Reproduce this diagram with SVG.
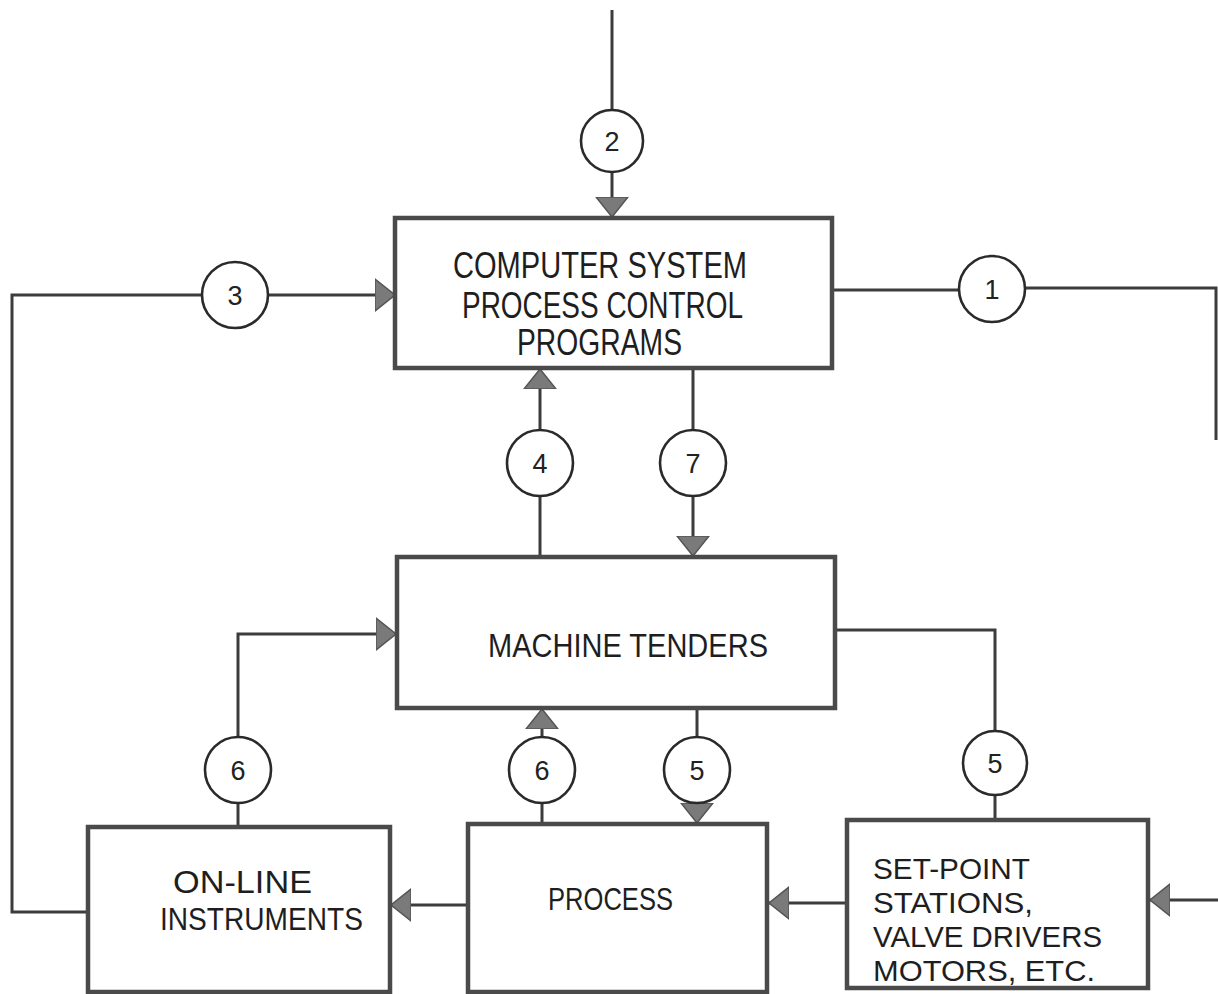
<svg xmlns="http://www.w3.org/2000/svg" width="1218" height="994" viewBox="0 0 1218 994">
<style>
.box{fill:#fff;stroke:#4a4a4a;stroke-width:4.5}
.ln{fill:none;stroke:#3c3c3c;stroke-width:3}
.circ{fill:#fff;stroke:#2a2a2a;stroke-width:2.6}
.lbl{font-family:"Liberation Sans",Arial,sans-serif;fill:#1e1e1e}
.big{font-size:36px}
.mid{font-size:34px}
.sm{font-size:31px}
.sp{font-size:29px}
.num{font-family:"Liberation Sans",Arial,sans-serif;fill:#222;font-size:27px;text-anchor:middle}
</style>
<defs>
<marker id="ah" viewBox="0 0 20 34" refX="20" refY="17" markerWidth="20" markerHeight="34" markerUnits="userSpaceOnUse" orient="auto">
<path d="M0,1 L20,17 L0,33 Z" fill="#7a7a7a" stroke="#555" stroke-width="1.5"/>
</marker>
</defs>
<rect width="1218" height="994" fill="#fff"/>
<g id="connectors">
<path class="ln" d="M612,10 V110"/>
<path class="ln" d="M612,172 V217" marker-end="url(#ah)"/>
<path class="ln" d="M88,912 H12 V295 H202"/>
<path class="ln" d="M268,295 H395" marker-end="url(#ah)"/>
<path class="ln" d="M832,290 H959"/>
<path class="ln" d="M1025,288 H1216 V440"/>
<path class="ln" d="M1218,900 H1150" marker-end="url(#ah)"/>
<path class="ln" d="M540,557 V496"/>
<path class="ln" d="M540,430 V369" marker-end="url(#ah)"/>
<path class="ln" d="M693,368 V430"/>
<path class="ln" d="M693,496 V556" marker-end="url(#ah)"/>
<path class="ln" d="M238,827 V803"/>
<path class="ln" d="M238,737 V634 H396" marker-end="url(#ah)"/>
<path class="ln" d="M542,824 V803"/>
<path class="ln" d="M542,737 V709" marker-end="url(#ah)"/>
<path class="ln" d="M697,708 V737"/>
<path class="ln" d="M697,803 V823" marker-end="url(#ah)"/>
<path class="ln" d="M835,630 H995 V731"/>
<path class="ln" d="M995,795 V820"/>
<path class="ln" d="M468,905 H391" marker-end="url(#ah)"/>
<path class="ln" d="M847,903 H769" marker-end="url(#ah)"/>
</g>
<g id="n-computer">
<rect class="box" x="395" y="218" width="437" height="150"/>
<text class="lbl big" x="453" y="278" textLength="294" lengthAdjust="spacingAndGlyphs">COMPUTER SYSTEM</text>
<text class="lbl big" x="462" y="318" textLength="281" lengthAdjust="spacingAndGlyphs">PROCESS CONTROL</text>
<text class="lbl big" x="517" y="355" textLength="165" lengthAdjust="spacingAndGlyphs">PROGRAMS</text>
</g>
<g id="n-tenders">
<rect class="box" x="397" y="557" width="438" height="151"/>
<text class="lbl mid" x="488" y="657" textLength="280" lengthAdjust="spacingAndGlyphs">MACHINE TENDERS</text>
</g>
<g id="n-online">
<rect class="box" x="88" y="827" width="302" height="165"/>
<text class="lbl sm" x="173" y="893" textLength="139" lengthAdjust="spacingAndGlyphs">ON-LINE</text>
<text class="lbl sm" x="160" y="930" textLength="203" lengthAdjust="spacingAndGlyphs">INSTRUMENTS</text>
</g>
<g id="n-process">
<rect class="box" x="468" y="824" width="299" height="168"/>
<text class="lbl sm" x="548" y="910" textLength="125" lengthAdjust="spacingAndGlyphs">PROCESS</text>
</g>
<g id="n-setpoint">
<rect class="box" x="847" y="820" width="301" height="168"/>
<text class="lbl sp" x="873" y="879" textLength="157" lengthAdjust="spacingAndGlyphs">SET-POINT</text>
<text class="lbl sp" x="873" y="913" textLength="160" lengthAdjust="spacingAndGlyphs">STATIONS,</text>
<text class="lbl sp" x="873" y="947" textLength="229" lengthAdjust="spacingAndGlyphs">VALVE DRIVERS</text>
<text class="lbl sp" x="873" y="981" textLength="222" lengthAdjust="spacingAndGlyphs">MOTORS, ETC.</text>
</g>
<g id="c2"><circle class="circ" cx="612" cy="141" r="31"/><text class="num" x="612" y="151">2</text></g>
<g id="c3"><circle class="circ" cx="235" cy="295" r="33"/><text class="num" x="235" y="305">3</text></g>
<g id="c1"><circle class="circ" cx="992" cy="289" r="33"/><text class="num" x="992" y="299">1</text></g>
<g id="c4"><circle class="circ" cx="540" cy="463" r="33"/><text class="num" x="540" y="473">4</text></g>
<g id="c7"><circle class="circ" cx="693" cy="463" r="33"/><text class="num" x="693" y="473">7</text></g>
<g id="c6a"><circle class="circ" cx="238" cy="770" r="33"/><text class="num" x="238" y="780">6</text></g>
<g id="c6b"><circle class="circ" cx="542" cy="770" r="33"/><text class="num" x="542" y="780">6</text></g>
<g id="c5a"><circle class="circ" cx="697" cy="770" r="33"/><text class="num" x="697" y="780">5</text></g>
<g id="c5b"><circle class="circ" cx="995" cy="763" r="32"/><text class="num" x="995" y="773">5</text></g>
</svg>
